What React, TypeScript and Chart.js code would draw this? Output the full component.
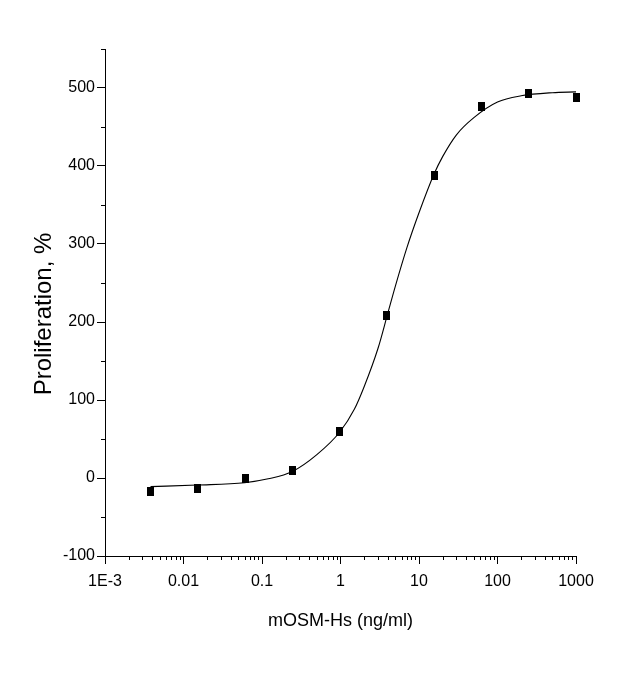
import { useEffect, useRef } from "react";
import { Chart, registerables } from "chart.js";

Chart.register(...registerables);

// concentration (ng/ml), 4-fold dilution series
const doses = [0.0038, 0.015, 0.061, 0.244, 0.977, 3.9, 15.6, 62.5, 250, 1000];
const proliferation = [-17, -13, 0, 10, 59, 208, 388, 476, 493, 488];

// fitted curve
const fitDoses = [0.0038, 0.015, 0.06, 0.12, 0.24, 0.5, 0.98, 1.5, 2, 3, 4, 5, 7, 10, 15.6, 20, 30, 50, 100, 200, 500, 1000];
const fitValues = [-11, -9, -6, -1, 8, 30, 59, 88, 117, 166, 211, 246, 295, 340, 390, 412, 440, 462, 482, 490, 494, 495];

const xTickValues = [0.001, 0.01, 0.1, 1, 10, 100, 1000];
const xTickLabels = ["1E-3", "0.01", "0.1", "1", "10", "100", "1000"];

const FONT = "'Liberation Sans', Arial, sans-serif";

const isDecade = (v: number) => xTickValues.some((d) => Math.abs(v - d) / d < 1e-9);

const extras = {
  id: "extras",
  afterDraw(chart: any) {
    const { ctx, scales } = chart;
    const x = scales.x;
    const y = scales.y;
    ctx.save();
    ctx.strokeStyle = "#000";
    ctx.lineWidth = 1;
    ctx.beginPath();
    x.ticks.forEach((t: any) => {
      if (!isDecade(t.value)) {
        const px = Math.round(x.getPixelForValue(t.value)) + 0.5;
        ctx.moveTo(px, x.top);
        ctx.lineTo(px, x.top + 4);
      }
    });
    y.ticks.forEach((t: any) => {
      if (t.value % 100 !== 0) {
        const py = Math.round(y.getPixelForValue(t.value)) + 0.5;
        ctx.moveTo(y.right - 4, py);
        ctx.lineTo(y.right, py);
      }
    });
    ctx.stroke();
    // y axis title
    ctx.translate(44, 314);
    ctx.rotate(-Math.PI / 2);
    ctx.fillStyle = "#000";
    ctx.font = `24px ${FONT}`;
    ctx.textAlign = "center";
    ctx.textBaseline = "middle";
    ctx.fillText("Proliferation, %", 0, 0);
    ctx.restore();
  },
};

export default function App() {
  const canvasRef = useRef<HTMLCanvasElement>(null);

  useEffect(() => {
    if (!canvasRef.current) return;
    const ctx = canvasRef.current.getContext("2d");
    if (!ctx) return;

    const marker = document.createElement("canvas");
    marker.width = 7;
    marker.height = 9;
    const mctx = marker.getContext("2d");
    if (mctx) {
      mctx.fillStyle = "#000";
      mctx.fillRect(0, 0, 7, 9);
    }

    const chart = new Chart(ctx, {
      type: "scatter",
      data: {
        datasets: [
          {
            label: "fit",
            data: fitDoses.map((d, i) => ({ x: d, y: fitValues[i] })),
            showLine: true,
            borderColor: "#000",
            borderWidth: 1.1,
            pointRadius: 0,
            cubicInterpolationMode: "monotone",
            clip: 6,
          },
          {
            label: "data",
            data: doses.map((d, i) => ({ x: d, y: proliferation[i] })),
            pointStyle: marker,
            backgroundColor: "#000",
            borderColor: "#000",
            clip: false,
          },
        ],
      },
      options: {
        animation: false,
        responsive: false,
        layout: { padding: { top: 49, right: 51, left: 0, bottom: 0 } },
        plugins: { legend: { display: false }, tooltip: { enabled: false } },
        scales: {
          x: {
            type: "logarithmic",
            min: 0.001,
            max: 1000,
            afterBuildTicks: (scale: any) => {
              const ticks: { value: number }[] = [];
              xTickValues.forEach((v, i) => {
                ticks.push({ value: v });
                if (i < xTickValues.length - 1) {
                  for (let m = 2; m <= 9; m++) ticks.push({ value: v * m });
                }
              });
              scale.ticks = ticks;
            },
            afterFit: (scale: any) => {
              scale.height = 130;
            },
            border: { display: true, color: "#000", width: 1 },
            grid: {
              drawOnChartArea: false,
              drawTicks: true,
              tickLength: 8,
              tickWidth: 1,
              tickColor: (c: any) => (isDecade(c.tick.value) ? "#000" : "rgba(0,0,0,0)"),
            },
            ticks: {
              autoSkip: false,
              maxRotation: 0,
              padding: 8,
              color: "#000",
              font: { family: FONT, size: 16 },
              callback: (value: any) => {
                const i = xTickValues.findIndex((v) => Math.abs(v - Number(value)) / v < 1e-9);
                return i >= 0 ? xTickLabels[i] : "";
              },
            },
            title: {
              display: true,
              text: "mOSM-Hs (ng/ml)",
              color: "#000",
              font: { family: FONT, size: 18 },
              padding: { top: 0, bottom: 54 },
            },
          },
          y: {
            min: -100,
            max: 550,
            afterFit: (scale: any) => {
              scale.width = 105;
            },
            border: { display: true, color: "#000", width: 1 },
            grid: {
              drawOnChartArea: false,
              drawTicks: true,
              tickLength: 8,
              tickWidth: 1,
              tickColor: (c: any) => (c.tick.value % 100 === 0 ? "#000" : "rgba(0,0,0,0)"),
            },
            ticks: {
              stepSize: 50,
              autoSkip: false,
              padding: 2,
              color: "#000",
              font: { family: FONT, size: 16 },
              callback: (value: any) => (Number(value) % 100 === 0 ? String(value) : ""),
            },
          },
        },
      },
      plugins: [extras],
    });

    return () => {
      chart.destroy();
    };
  }, []);

  return (
    <div style={{ position: "absolute", left: 0, top: 0, width: 627, height: 686, background: "#fff" }}>
      <canvas ref={canvasRef} width={627} height={686} />
    </div>
  );
}
